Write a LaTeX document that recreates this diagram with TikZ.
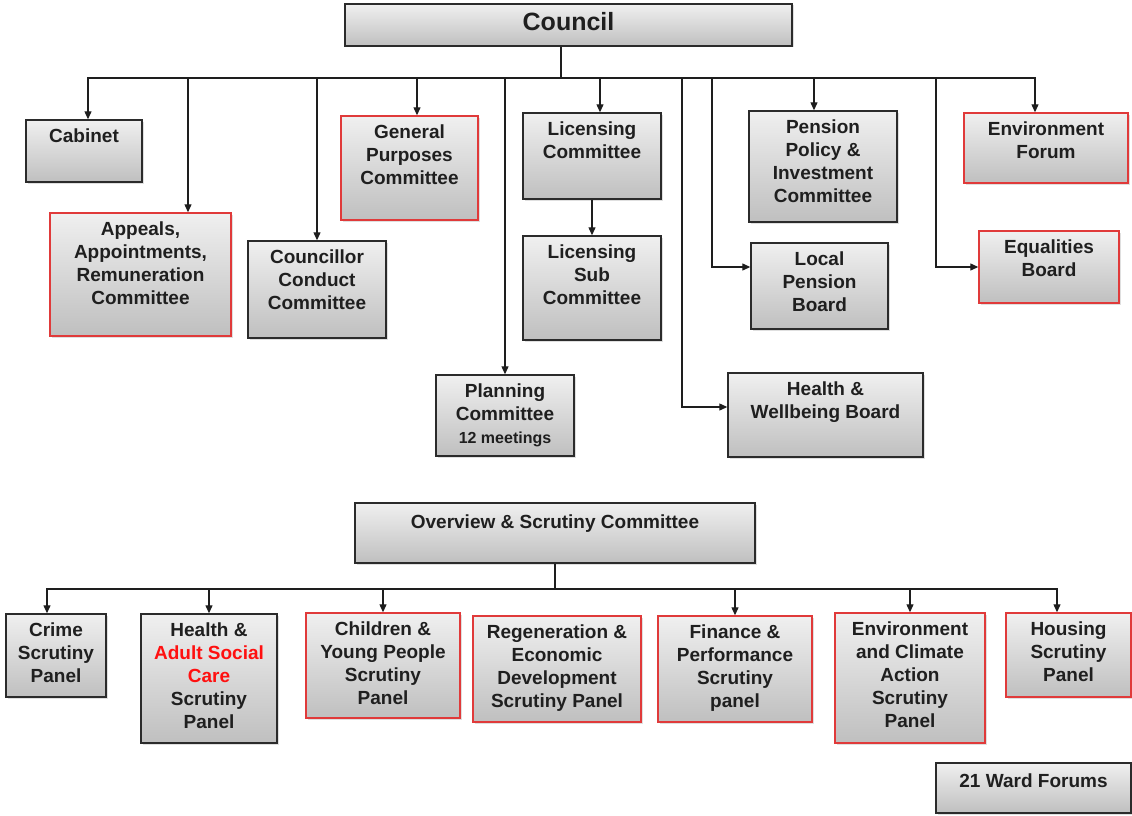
\documentclass[tikz,border=0pt]{standalone}
\usepackage{fontspec}
\setmainfont{Liberation Sans}
\usepackage{xcolor}
\usepackage{tikz}
\usetikzlibrary{arrows.meta}
\usetikzlibrary{shadows}
\definecolor{boxred}{HTML}{E03A3A}
\definecolor{boxline}{HTML}{2B2B2B}
\definecolor{linkgray}{HTML}{1E1E1E}
\definecolor{adultred}{HTML}{FF1010}

\begin{document}
\begin{tikzpicture}[x=1pt, y=-1pt,
  unit/.style={draw=boxline, line width=1.4pt, top color=gray!12, bottom color=gray!50,
    drop shadow={shadow xshift=1.5pt, shadow yshift=-1.5pt, opacity=.25}},
  redunit/.style={unit, draw=boxred},
  dims/.style 2 args={minimum width=#1pt, minimum height=#2pt},
  txt/.style={anchor=north, yshift=-9pt, align=center, inner sep=0pt, text=black!88,
    font=\bfseries\fontsize{19}{23}\selectfont},
  link/.style={line width=1.2pt, draw=linkgray},
  arr/.style={link, -{Triangle[length=8pt, width=7pt]}}]
\useasboundingbox (0,0) rectangle (1132,816);

%%% Council and the committees under it
\node[unit, dims={447}{42}, label={[txt, font=\bfseries\fontsize{25}{30}\selectfont]north:Council}] (council) at (568.5,25) {};
\node[unit, dims={116}{62}, label={[txt]north:Cabinet}] (cabinet) at (84,151) {};
\node[redunit, dims={181}{123}, label={[txt]north:{Appeals,\\Appointments,\\Remuneration\\Committee}}] (appeals) at (140.5,274.5) {};
\node[unit, dims={138}{97}, label={[txt]north:{Councillor\\Conduct\\Committee}}] (conduct) at (317,289.5) {};
\node[redunit, dims={137}{104}, label={[txt]north:{General\\Purposes\\Committee}}] (general) at (409.5,168) {};
\node[unit, dims={138}{86}, label={[txt]north:{Licensing\\Committee}}] (licensing) at (592,156) {};
\node[unit, dims={138}{104}, label={[txt]north:{Licensing\\Sub\\Committee}}] (licsub) at (592,288) {};
\node[unit, dims={138}{81}, label={[txt]north:{Planning\\Committee\\{\fontsize{16}{19}\selectfont 12 meetings}}}] (planning) at (505,415.5) {};
\node[unit, dims={148}{111}, label={[txt]north:{Pension\\Policy \&\\Investment\\Committee}}] (pension) at (823,166.5) {};
\node[unit, dims={137}{86}, label={[txt]north:{Local\\Pension\\Board}}] (localpension) at (819.5,286) {};
\node[unit, dims={195}{84}, label={[txt]north:{Health \&\\Wellbeing Board}}] (wellbeing) at (825.5,415) {};
\node[redunit, dims={164}{70}, label={[txt]north:{Environment\\Forum}}] (envforum) at (1046,148) {};
\node[redunit, dims={140}{72}, label={[txt]north:{Equalities\\Board}}] (equalities) at (1049,267) {};

%%% The edges from the council
\coordinate (bus) at (561,78);
\coordinate (wbtap) at (682,78);
\coordinate (lptap) at (712,78);
\coordinate (eqtap) at (936,78);
\draw[link] ([xshift=-7.5pt]council.south) -- (bus);
\draw[arr] (bus) -| ([xshift=4pt]cabinet.north);
\draw[arr] (bus) -| ([xshift=47.5pt]appeals.north);
\draw[arr] (bus) -| (conduct.north);
\draw[arr] (bus) -| ([xshift=7.5pt]general.north);
\draw[arr] (bus) -| (planning.north);
\draw[arr] (bus) -| ([xshift=8pt]licensing.north);
\draw[arr] (licensing.south) -- (licsub.north);
\draw[arr] (bus) -- (wbtap) |- ([yshift=8pt]wellbeing.west);
\draw[arr] (bus) -- (lptap) |- ([yshift=19pt]localpension.west);
\draw[arr] (bus) -| ([xshift=-9pt]pension.north);
\draw[arr] (bus) -- (eqtap) |- (equalities.west);
\draw[arr] (bus) -| ([xshift=-11pt]envforum.north);

%%% Overview and scrutiny with its panels
\node[unit, dims={400}{60}, label={[txt, yshift=-3pt]north:{Overview \& Scrutiny Committee}}] (overview) at (555,533) {};
\node[unit, dims={100}{83}, label={[txt]north:{Crime\\Scrutiny\\Panel}}] (crime) at (56,655.5) {};
\node[unit, dims={136}{129}, label={[txt]north:{Health \&\\\textcolor{adultred}{Adult Social}\\\textcolor{adultred}{Care}\\Scrutiny\\Panel}}] (adultcare) at (209,678.5) {};
\node[redunit, dims={154}{105}, label={[txt]north:{Children \&\\Young People\\Scrutiny\\Panel}}] (children) at (383,665.5) {};
\node[redunit, dims={168}{106}, label={[txt]north:{Regeneration \&\\Economic\\Development\\Scrutiny Panel}}] (regen) at (557,669) {};
\node[redunit, dims={154}{106}, label={[txt]north:{Finance \&\\Performance\\Scrutiny\\panel}}] (finance) at (735,669) {};
\node[redunit, dims={150}{130}, label={[txt]north:{Environment\\and Climate\\Action\\Scrutiny\\Panel}}] (climate) at (910,678) {};
\node[redunit, dims={125}{84}, label={[txt]north:{Housing\\Scrutiny\\Panel}}] (housing) at (1068.5,655) {};
\node[unit, dims={195}{50}, label={[txt, yshift=-2pt]north:{21 Ward Forums}}] (wards) at (1033.5,788) {};

%%% The edges from overview and scrutiny
\coordinate (osbus) at (555,589);
\draw[link] (overview.south) -- (osbus);
\draw[arr] (osbus) -| ([xshift=-9pt]crime.north);
\draw[arr] (osbus) -| (adultcare.north);
\draw[arr] (osbus) -| (children.north);
\draw[arr] (osbus) -| (finance.north);
\draw[arr] (osbus) -| (climate.north);
\draw[arr] (osbus) -| ([xshift=-11.5pt]housing.north);
\end{tikzpicture}
\end{document}
